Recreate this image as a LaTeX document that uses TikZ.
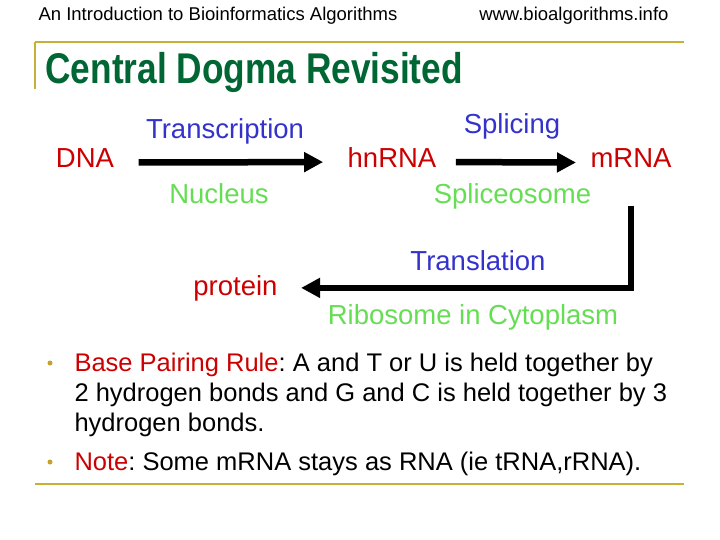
\documentclass[tikz,border=0pt]{standalone}
\usepackage{fontspec}
\setmainfont{Liberation Sans}
\usetikzlibrary{arrows.meta}
\definecolor{ccqqqq}{rgb}{0.8,0,0}
\definecolor{qq6633}{rgb}{0,0.4,0.2}
\definecolor{3333cc}{rgb}{0.2,0.2,0.8}
\definecolor{66dd55}{rgb}{0.4,0.87,0.33}
\definecolor{c8b038}{rgb}{0.78,0.69,0.22}
\definecolor{c8a028}{rgb}{0.78,0.63,0.16}
\frenchspacing

\begin{document}
\begin{tikzpicture}[line cap=round,line join=round,x=1pt,y=1pt,
	big/.style={font=\fontsize{27.5}{30}\selectfont},
	mol/.style={big,color=ccqqqq,anchor=base},
	proc/.style={big,color=3333cc,anchor=base},
	site/.style={big,color=66dd55,anchor=base},
	body/.style={font=\fontsize{25.5}{30}\selectfont,anchor=base west},
	rulebar/.style={color=c8b038,line width=2.5pt,line cap=butt},
	arrline/.style={line width=6.5pt,line cap=butt,line join=miter,-{Triangle[length=19pt,width=19pt]}}]
	\clip(0,-540) rectangle (720,0);
	\fill[white] (0,-540) rectangle (720,0);
	% header
	\draw (35,-21) node[anchor=base west,font=\fontsize{18.5}{20}\selectfont] (course) {An Introduction to Bioinformatics Algorithms};
	\draw (672,-21) node[anchor=base east,font=\fontsize{18.5}{20}\selectfont] (site) {www.bioalgorithms.info};
	\draw [rulebar] (35,-42)-- (684,-42);
	\draw [rulebar] (35,-42)-- (35,-89);
	\draw (42,-84) node[anchor=base west,color=qq6633,font=\fontsize{43}{44}\selectfont\bfseries] (title) {\scalebox{0.82}[1]{Central Dogma Revisited}};
	% molecules
	\draw (85,-168) node[mol] (dna) {DNA};
	\draw (392,-168) node[mol] (hnrna) {hnRNA};
	\draw (631,-168) node[mol] (mrna) {mRNA};
	\draw (235.5,-295) node[mol] (protein) {protein};
	% steps and places
	\draw (225,-138.5) node[proc] (transcription) {Transcription};
	\draw (219,-204) node[site] (nucleus) {Nucleus};
	\draw (512,-133.5) node[proc] (splicing) {Splicing};
	\draw (512.5,-203.5) node[site] (spliceosome) {Spliceosome};
	\draw (478,-270.5) node[proc] (translation) {Translation};
	\draw (473,-324) node[site] (ribosome) {Ribosome in Cytoplasm};
	% arrows
	\draw [arrline,shorten <=21pt,shorten >=21pt] ([yshift=-4pt]dna.east)-- ([yshift=-4pt]hnrna.west);
	\draw [arrline,shorten <=16pt,shorten >=11pt] ([yshift=-4pt]hnrna.east)-- ([yshift=-4pt]mrna.west);
	\draw [arrline,shorten >=20pt] ([yshift=-34pt]mrna.south) |- (protein.east);
	% notes
	\fill [color=c8a028] (50,-363) circle (2.5pt);
	\draw (71,-371) node[body] (rule1) {{\color{ccqqqq}Base Pairing Rule}: A and T or U is held together by};
	\draw (71,-401) node[body] (rule2) {2 hydrogen bonds and G and C is held together by 3};
	\draw (71,-431) node[body] (rule3) {hydrogen bonds.};
	\fill [color=c8a028] (50,-462) circle (2.5pt);
	\draw (71,-470) node[body] (note) {{\color{ccqqqq}Note}: Some mRNA stays as RNA (ie tRNA,rRNA).};
	\draw [rulebar] (35,-484)-- (684,-484);
\end{tikzpicture}
\end{document}
